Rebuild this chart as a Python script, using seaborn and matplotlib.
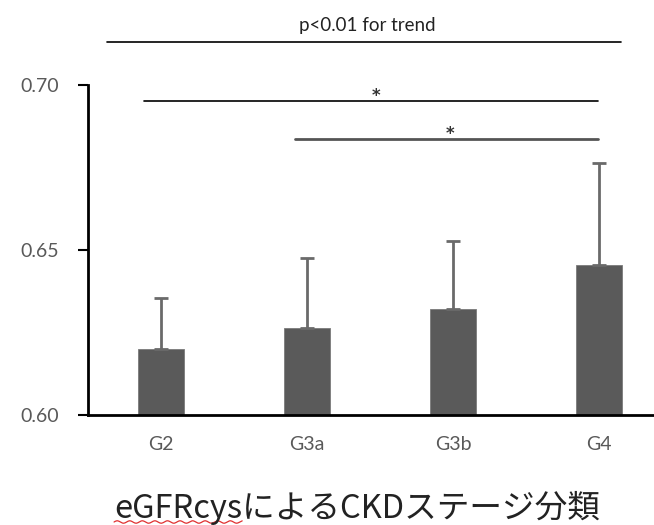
import numpy as np
import pandas as pd
import matplotlib
matplotlib.use("Agg")
import matplotlib.pyplot as plt
import seaborn as sns

# CKD stage (eGFRcys) groups: mean and SD
stages = ["G2", "G3a", "G3b", "G4"]
means = [0.620, 0.6265, 0.632, 0.6455]
sds = [0.0155, 0.021, 0.0207, 0.031]
yticks = [0.60, 0.65, 0.70]
xlabel_latin = "eGFRcys"
xlabel_rest = "によるCKDステージ分類"

sns.set_theme(style="white")
plt.rcParams["font.family"] = ["Lato", "DejaVu Sans"]

df = pd.DataFrame({"stage": stages, "mean": means, "sd": sds})

W, H = 654, 525
fig = plt.figure(figsize=(W / 100, H / 100), dpi=100)
ax = fig.add_axes([88 / W, 110 / H, 584 / W, 330 / H])

bar_color = "#5a5a5a"
sns.barplot(data=df, x="stage", y="mean", color=bar_color, width=0.31,
            errorbar=None, saturation=1, ax=ax, edgecolor="#7a7a7a", linewidth=0.6)
ax.errorbar(np.arange(len(stages)), df["mean"],
            yerr=[np.zeros(len(stages)), df["sd"]],
            fmt="none", ecolor="#6a6a6a", elinewidth=2, capsize=5, capthick=2, zorder=1)

ax.set_xlim(-0.5, 3.5)
ax.set_ylim(0.60, 0.70)
ax.set_yticks(yticks)
ax.set_yticklabels([f"{v:.2f}" for v in yticks])
ax.tick_params(axis="y", left=True, length=7, width=1.5, color="black",
               labelsize=14, labelcolor="#595959", pad=14)
ax.tick_params(axis="x", bottom=False, labelsize=14, labelcolor="#595959", pad=9)
for s in ["top", "right"]:
    ax.spines[s].set_visible(False)
for s in ["left", "bottom"]:
    ax.spines[s].set_color("black")
    ax.spines[s].set_linewidth(2)
ax.set_ylabel("")
ax.set_xlabel("")

# axis title below the categories
cjk = ["Noto Sans CJK JP", "DejaVu Sans"]
title = fig.text(357 / W, (H - 518) / H, xlabel_latin + xlabel_rest, ha="center",
                 va="baseline", fontsize=23.5, color="#222222", family=cjk)
fig.canvas.draw()
renderer = fig.canvas.get_renderer()
full = title.get_window_extent(renderer)
probe = fig.text(0, 0, xlabel_latin, fontsize=23.5, family=cjk)
latin_w = probe.get_window_extent(renderer).width
probe.remove()
# spell-check style red wavy underline under the latin part
xs = np.linspace(full.x0, full.x0 + latin_w, 200)
ys = (H - 522) + 1.2 * np.sin((xs - full.x0) / 2.0)
fig.add_artist(plt.Line2D(xs / W, ys / H, color="#e03030", lw=0.9))

# trend test and pairwise comparison brackets
ax.plot([-0.37, 3.15], [0.713, 0.713], color="black", lw=1.2, clip_on=False)
ax.text(1.41, 0.7155, "p<0.01 for trend", ha="center", va="bottom", fontsize=13.5,
        color="#222222")
ax.plot([-0.116, 2.99], [0.6952, 0.6952], color="black", lw=1.2, clip_on=False)
ax.text(1.47, 0.6967, "*", ha="center", va="center", fontsize=12, color="#333333",
        family="DejaVu Sans", fontweight="bold")
ax.plot([0.918, 2.99], [0.6836, 0.6836], color="#555555", lw=2, clip_on=False)
ax.text(1.98, 0.6852, "*", ha="center", va="center", fontsize=12, color="#333333",
        family="DejaVu Sans", fontweight="bold")

fig.savefig("out.png", dpi=100)
